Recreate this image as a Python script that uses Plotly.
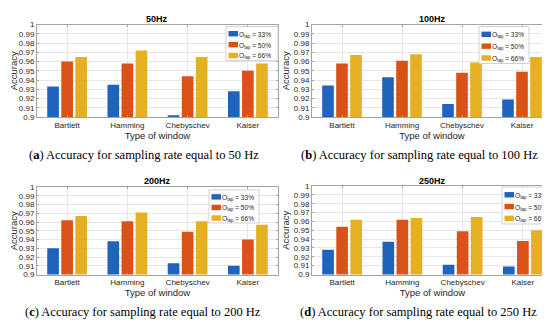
import plotly.graph_objects as go

# ---------------- data ----------------
windows = ["Bartlett", "Hamming", "Chebyschev", "Kaiser"]
overlap_labels = ["O<sub>lap</sub> = 33%", "O<sub>lap</sub> = 50%", "O<sub>lap</sub> = 66%"]
panel_titles = ["50Hz", "100Hz", "200Hz", "250Hz"]
captions = [
    "(<b>a</b>) Accuracy for sampling rate equal to 50 Hz",
    "(<b>b</b>) Accuracy for sampling rate equal to 100 Hz",
    "(<b>c</b>) Accuracy for sampling rate equal to 200 Hz",
    "(<b>d</b>) Accuracy for sampling rate equal to 250 Hz",
]

acc_50hz_33 = [0.933, 0.935, 0.902, 0.928]
acc_50hz_50 = [0.960, 0.958, 0.944, 0.950]
acc_50hz_66 = [0.965, 0.972, 0.965, 0.958]

acc_100hz_33 = [0.934, 0.943, 0.914, 0.919]
acc_100hz_50 = [0.958, 0.961, 0.948, 0.949]
acc_100hz_66 = [0.967, 0.968, 0.959, 0.965]

acc_200hz_33 = [0.930, 0.938, 0.913, 0.910]
acc_200hz_50 = [0.962, 0.961, 0.949, 0.940]
acc_200hz_66 = [0.967, 0.971, 0.961, 0.957]

acc_250hz_33 = [0.928, 0.937, 0.911, 0.909]
acc_250hz_50 = [0.954, 0.962, 0.949, 0.938]
acc_250hz_66 = [0.962, 0.964, 0.965, 0.950]

y_tickvals = [0.90, 0.91, 0.92, 0.93, 0.94, 0.95, 0.96, 0.97, 0.98, 0.99, 1.00]
y_ticktext = ["0.9", "0.91", "0.92", "0.93", "0.94", "0.95", "0.96", "0.97", "0.98", "0.99", "1"]

panels = [
    [acc_50hz_33, acc_50hz_50, acc_50hz_66],
    [acc_100hz_33, acc_100hz_50, acc_100hz_66],
    [acc_200hz_33, acc_200hz_50, acc_200hz_66],
    [acc_250hz_33, acc_250hz_50, acc_250hz_66],
]

# ---------------- style / layout ----------------
W, H = 550, 324
colors = ["#1f63bd", "#d95319", "#e5b022"]
SANS = "Liberation Sans, Arial, sans-serif"
SERIF = "Liberation Serif, Times New Roman, serif"


def px(x):
    return x / W


def py(y):
    return 1 - y / H


geom = [
    dict(x0=29, x1=270, y0=13, y1=108, leg=(218, 15, 52, 35), ty=7, cap=(136, 147)),
    dict(x0=304, x1=544, y0=13, y1=108, leg=(471, 15, 50, 38), ty=7, cap=(411, 147)),
    dict(x0=29, x1=270, y0=180, y1=270, leg=(201, 183, 50, 34), ty=174, cap=(135, 309)),
    dict(x0=304, x1=545, y0=179, y1=270, leg=(494, 180, 50, 38), ty=174, cap=(410, 309)),
]

fig = go.Figure()
shapes = []
annotations = []
layout_axes = {}

for i, (series, g) in enumerate(zip(panels, geom)):
    n = "" if i == 0 else str(i + 1)
    for k, vals in enumerate(series):
        fig.add_trace(go.Bar(
            x=windows, y=vals, name=overlap_labels[k],
            marker=dict(color=colors[k], line=dict(width=0)),
            xaxis="x" + n, yaxis="y" + n, showlegend=False,
            offsetgroup=str(k),
        ))
    axis_common = dict(
        showline=True, linecolor="#a3a3a3", linewidth=1, mirror="ticks",
        ticks="inside", ticklen=2, tickcolor="#a3a3a3",
        showgrid=True, gridcolor="#e6e6e6", gridwidth=1, zeroline=False,
        tickfont=dict(family=SANS, size=8, color="#262626"),
    )
    layout_axes["xaxis" + n] = dict(
        axis_common, domain=[px(g["x0"]), px(g["x1"])], anchor="y" + n,
        type="category", range=[-0.5, 3.5],
        title=dict(text="Type of window", font=dict(family=SANS, size=9.5, color="#262626"), standoff=1),
    )
    layout_axes["yaxis" + n] = dict(
        axis_common, domain=[py(g["y1"]), py(g["y0"])], anchor="x" + n,
        range=[0.9, 1.0], tickvals=y_tickvals, ticktext=y_ticktext,
        title=dict(text="Accuracy", font=dict(family=SANS, size=9.5, color="#262626"), standoff=2),
    )
    # panel title
    annotations.append(dict(
        text="<b>%s</b>" % panel_titles[i], x=px((g["x0"] + g["x1"]) / 2), y=py(g["ty"]),
        xref="paper", yref="paper", showarrow=False, xanchor="center", yanchor="middle",
        font=dict(family=SANS, size=9, color="#000000"),
    ))
    # caption
    annotations.append(dict(
        text=captions[i], x=px(g["cap"][0]), y=py(g["cap"][1]),
        xref="paper", yref="paper", showarrow=False, xanchor="center", yanchor="middle",
        font=dict(family=SERIF, size=12.5, color="#000000"),
    ))
    # legend box
    lx, ly, lw, lh = g["leg"]
    shapes.append(dict(
        type="rect", xref="paper", yref="paper",
        x0=px(lx), x1=px(lx + lw), y0=py(ly + lh), y1=py(ly),
        fillcolor="white", line=dict(color="#d0d0d0", width=1), layer="above",
    ))
    for k in range(3):
        rc = ly + lh * (0.21 + 0.32 * k)
        shapes.append(dict(
            type="rect", xref="paper", yref="paper",
            x0=px(lx + 2.5), x1=px(lx + 12), y0=py(rc + 2.8), y1=py(rc - 2.8),
            fillcolor=colors[k], line=dict(width=0), layer="above",
        ))
        annotations.append(dict(
            text=overlap_labels[k], x=px(lx + 12), y=py(rc + 1),
            xref="paper", yref="paper", showarrow=False, xanchor="left", yanchor="middle",
            font=dict(family=SANS, size=6.6, color="#262626"), borderpad=0,
        ))

fig.update_layout(
    width=W, height=H, margin=dict(l=0, r=0, t=0, b=0),
    paper_bgcolor="white", plot_bgcolor="white",
    barmode="group", bargap=0.3, bargroupgap=0.17,
    shapes=shapes, annotations=annotations, showlegend=False,
    **layout_axes,
)

fig.write_html("out.html")
